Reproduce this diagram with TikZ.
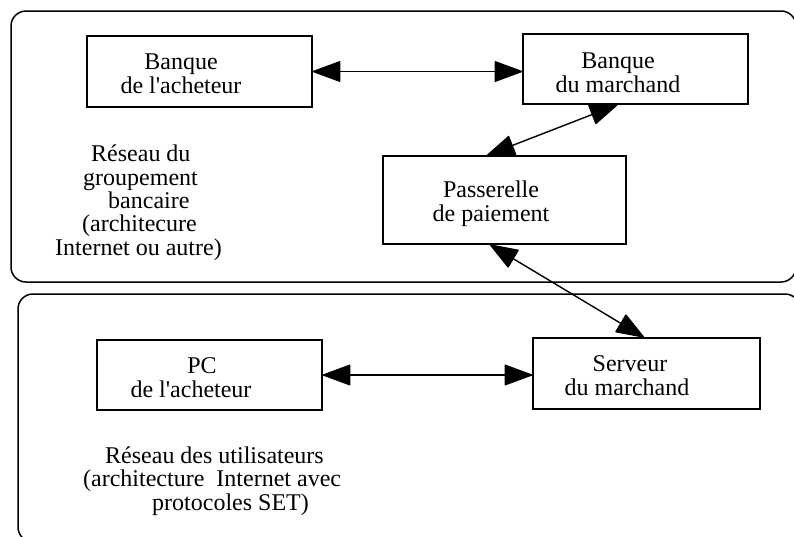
\documentclass[tikz,border=0pt]{standalone}
\usepackage{fontspec}
\setmainfont{Liberation Serif}[Ligatures=TeXOff]
\usetikzlibrary{arrows.meta,calc}
\tikzset{
  region/.style={draw, line width=1.5pt, rounded corners=15pt},
  box/.style={draw, line width=1.4pt, inner sep=0pt},
  txt/.style={font=\fontsize{24pt}{23.5pt}\selectfont, align=center, inner sep=0pt, anchor=base},
  lbl/.style={font=\fontsize{24pt}{23.3pt}\selectfont, align=left, inner sep=0pt, anchor=base west},
  tip/.tip={Triangle[length=29pt,width=21pt,round]},
  link/.style={line width=1.4pt, tip-tip}
}
\begin{document}
\begin{tikzpicture}[x=1pt,y=-1pt]
\useasboundingbox (0,0) rectangle (794,536);
\clip (0,0) rectangle (794,536);
% regions
\draw[region] (11,11) rectangle (796,282);
\draw[region] (18,294) rectangle (800,542);
% boxes
\node[box, minimum width=225pt, minimum height=71pt] (ba) at (199.5,71.5) {};
\node[box, minimum width=225pt, minimum height=70pt] (bm) at (635.5,69) {};
\node[box, minimum width=243pt, minimum height=88pt] (pp) at (504.5,200) {};
\node[box, minimum width=225pt, minimum height=70pt] (pc) at (209.5,375) {};
\node[box, minimum width=227pt, minimum height=71pt] (sm) at (646.5,373.5) {};
% box texts
\node[txt] (tba) at (181,93) {Banque\\de l'acheteur};
\node[txt] (tbm) at (618,92) {Banque\\du marchand};
\node[txt] (tpp) at (491,221) {Passerelle\\de paiement};
\node[txt] (tpc) at (191,397) {\hspace*{22pt}PC\\de l'acheteur};
\node[txt] (tsm) at (627,395) {\hspace*{6pt}Serveur\\du marchand};
% region labels
\node[lbl] (lab1) at (55,255) {\hspace*{36pt}Réseau du\\\hspace*{28pt}groupement\\\hspace*{53pt}bancaire\\\hspace*{27pt}(architecure\\Internet ou autre)};
\node[lbl] (lab2) at (83,510) {\hspace*{22pt}Réseau des utilisateurs\\(architecture\ \ Internet avec\\\hspace*{69pt}protocoles SET)};
% connectors
\draw[link] (ba.east) -- (ba.east -| bm.west);
\draw[link] ([xshift=-18pt]bm.south) -- ([xshift=-17.5pt]pp.north);
\draw[link] ([xshift=-14.5pt]pp.south) -- ([xshift=-2.5pt]sm.north);
\draw[link] (pc.east) -- (pc.east -| sm.west);
\end{tikzpicture}
\end{document}
